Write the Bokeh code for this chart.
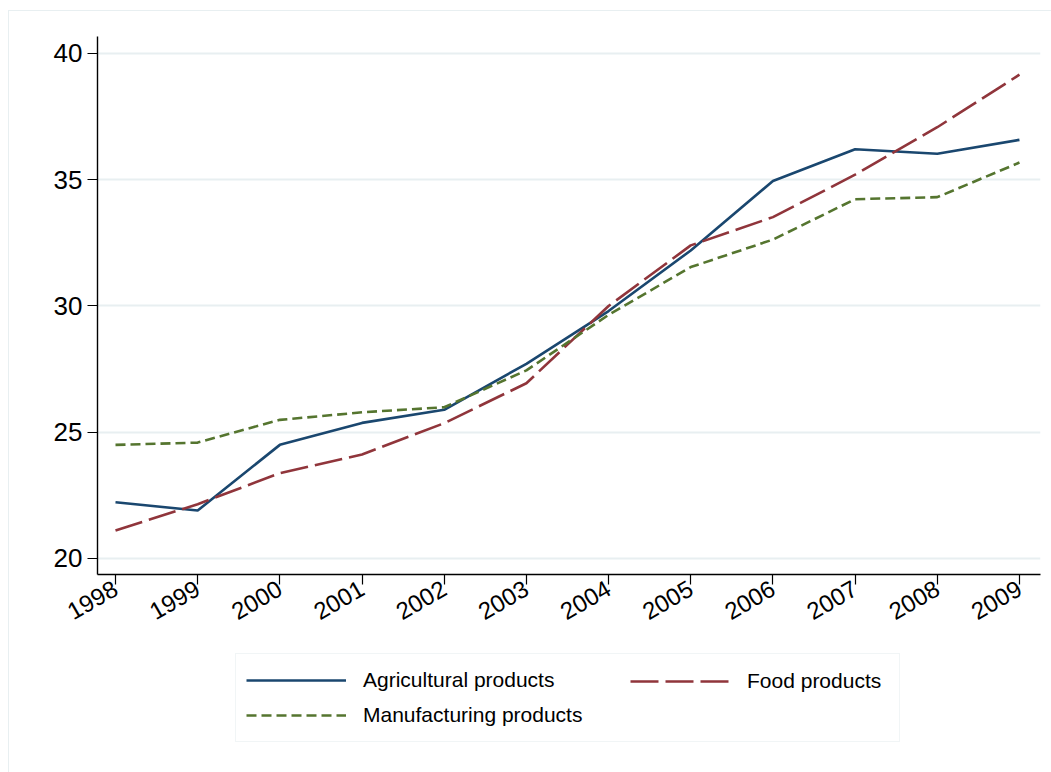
import math
from bokeh.plotting import figure
from bokeh.layouts import column
from bokeh.models import FixedTicker, Legend, LegendItem, Range1d
from bokeh.embed import file_html
from bokeh.resources import INLINE

years = [1998, 1999, 2000, 2001, 2002, 2003, 2004, 2005, 2006, 2007, 2008, 2009]
agricultural = [22.23, 21.9, 24.5, 25.37, 25.89, 27.71, 29.8, 32.2, 34.95, 36.21, 36.03, 36.58]
food = [21.11, 22.15, 23.38, 24.12, 25.36, 26.94, 30.0, 32.4, 33.52, 35.2, 37.08, 39.16]
manufacturing = [24.5, 24.59, 25.49, 25.79, 25.99, 27.45, 29.65, 31.54, 32.63, 34.23, 34.31, 35.68]
y_ticks = [20, 25, 30, 35, 40]
series_names = ["Agricultural products", "Food products", "Manufacturing products"]

FONT = "Liberation Sans"
C_AGR, C_FOOD, C_MAN = "#1a476f", "#90353b", "#55752f"
D_FOOD, D_MAN = "28 7", "10 5"
LW = 2.6

p = figure(width=1042, height=629, output_backend="svg", toolbar_location=None,
           x_range=(1997.781, 2009.256), y_range=(19.366, 40.673),
           min_border_left=88, min_border_top=25, min_border_right=11, min_border_bottom=66,
           background_fill_color="white", border_fill_color="white")
p.outline_line_color = None

p.line(years, agricultural, line_color=C_AGR, line_width=LW)
p.line(years, food, line_color=C_FOOD, line_width=LW, line_dash=D_FOOD)
p.line(years, manufacturing, line_color=C_MAN, line_width=LW, line_dash=D_MAN)

p.xgrid.grid_line_color = None
p.ygrid.grid_line_color = "#e8eff1"
p.ygrid.grid_line_width = 2

p.yaxis.ticker = FixedTicker(ticks=y_ticks)
p.xaxis.ticker = FixedTicker(ticks=years)
for ax in (p.xaxis[0], p.yaxis[0]):
    ax.axis_line_color = "black"
    ax.axis_line_width = 1.4
    ax.major_tick_line_color = "black"
    ax.major_tick_line_width = 1.2
    ax.major_tick_out = 10
    ax.major_tick_in = 0
    ax.minor_tick_line_color = None
    ax.major_label_text_font = FONT
    ax.major_label_text_color = "black"
p.yaxis.major_label_text_font_size = "26px"
p.yaxis.major_label_standoff = 5
p.xaxis.major_label_text_font_size = "24px"
p.xaxis.major_label_orientation = math.radians(30)
p.xaxis.major_label_standoff = 2

# legend panel below the chart (the series are drawn there too, but outside its view)
lg = figure(width=1042, height=132, output_backend="svg", toolbar_location=None,
            x_axis_type=None, y_axis_type=None, min_border=0,
            x_range=Range1d(0, 1), y_range=Range1d(0, 1),
            background_fill_color="white", border_fill_color="white")
lg.outline_line_color = None
lg.xgrid.grid_line_color = None
lg.ygrid.grid_line_color = None
la = lg.line(years, agricultural, line_color=C_AGR, line_width=LW)
lf = lg.line(years, food, line_color=C_FOOD, line_width=LW, line_dash=D_FOOD)
lm = lg.line(years, manufacturing, line_color=C_MAN, line_width=LW, line_dash=D_MAN)


def style(leg):
    leg.label_text_font = FONT
    leg.label_text_font_size = "21px"
    leg.label_text_color = "black"
    leg.label_height = 24
    leg.glyph_width = 100
    leg.glyph_height = 32
    leg.label_standoff = 17
    leg.spacing = 3
    leg.margin = 0


leg_a = Legend(items=[LegendItem(label=series_names[0], renderers=[la]),
                      LegendItem(label=series_names[2], renderers=[lm])],
               location=(138, 30))
style(leg_a)
leg_a.padding = 10
leg_a.label_width = 526
leg_a.border_line_color = "#e3ecee"
leg_a.border_line_width = 1.2
leg_a.background_fill_color = "white"
lg.add_layout(leg_a, "center")

leg_b = Legend(items=[LegendItem(label=series_names[1], renderers=[lf])],
               location=(533, 75))
style(leg_b)
leg_b.padding = 0
leg_b.border_line_color = None
leg_b.background_fill_alpha = 0
lg.add_layout(leg_b, "center")

page = column(p, lg, spacing=0, margin=(10, 0, 0, 8),
              styles={"border-left": "1.5px solid #e8eff1", "border-top": "1.5px solid #e8eff1"})

open("out.html", "w").write(file_html(page, INLINE))
